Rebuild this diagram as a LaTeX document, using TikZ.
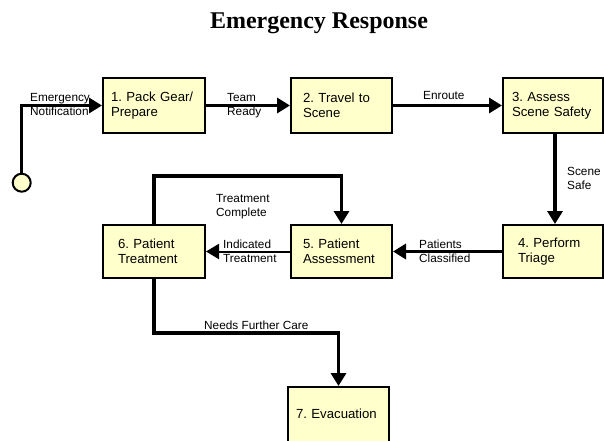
\documentclass[tikz,border=0pt]{standalone}
\usepackage{fontspec}
\setmainfont{Liberation Sans}
\newfontfamily\titlefont{Liberation Serif}
\usetikzlibrary{arrows.meta}
\frenchspacing
\definecolor{boxfill}{HTML}{FFFFCC}
\tikzset{
  box/.style={draw=black, line width=2pt, fill=boxfill, minimum height=54pt,
    inner xsep=0pt, inner ysep=0pt, align=left,
    font=\fontsize{13.2}{15}\selectfont},
  lbl/.style={anchor=base west, inner sep=0pt, align=left,
    font=\fontsize{11.8}{13.5}\selectfont},
  flow/.style={line width=3.5pt, -{Triangle[length=13pt,width=15pt]}},
  thinflow/.style={line width=2pt, -{Triangle[length=13pt,width=15pt]}},
}
\begin{document}
\begin{tikzpicture}[x=1pt,y=-1pt]
\useasboundingbox (0,0) rectangle (604,440);
\node[anchor=base, inner sep=0pt, font=\titlefont\bfseries\fontsize{24}{28}\selectfont] (title) at (319,28) {Emergency Response};
% boxes
\node[box, minimum width=102pt, text width=86pt, minimum height=55pt] (b1) at (154,105.5) {1. Pack Gear/\\Prepare};
\node[box, minimum width=101pt, text width=77pt, minimum height=55pt] (b2) at (341.5,105.5) {2. Travel to\\Scene};
\node[box, minimum width=100pt, text width=82pt, minimum height=55pt] (b3) at (553,105.5) {3. Assess\\Scene Safety};
\node[box, minimum width=100pt, text width=70pt, minimum height=53pt] (b4) at (553,251.5) {4. Perform\\Triage};
\node[box, minimum width=101pt, text width=77pt, minimum height=53pt] (b5) at (341.5,251.5) {5. Patient\\Assessment};
\node[box, minimum width=102pt, text width=72pt, minimum height=53pt] (b6) at (154,251.5) {6. Patient\\Treatment};
\node[box, minimum width=101pt, text width=85pt, minimum height=56pt] (b7) at (338.5,415) {\raisebox{3pt}{7. Evacuation}};
% start circle
\node[circle, draw=black, line width=2pt, fill=boxfill, minimum size=18pt, inner sep=0pt] (start) at (21.7,182.7) {};
% connectors
\draw[flow] (start.north) |- (b1.west);
\draw[flow] (b1.east) -- (b2.west);
\draw[flow] (b2.east) -- (b3.west);
\draw[flow] ([xshift=2pt]b3.south) -- ([xshift=2pt]b4.north);
\draw[flow] (b4.west) -- (b5.east);
\draw[thinflow] (b5.west) -- (b6.east);
\draw[flow] (b6.north) -- ++(0,-48) -| (b5.north);
\draw[flow] (b6.south) -- ++(0,54) -| (b7.north);
% labels
\node[lbl] (l0) at (30,115) {Emergency\\Notification};
\node[lbl] (l1) at (227,115) {Team\\Ready};
\node[lbl] (l2) at (423,99) {Enroute};
\node[lbl] (l3) at (567,189) {Scene\\Safe};
\node[lbl] (l4) at (419,262) {Patients\\Classified};
\node[lbl] (l5) at (223,262) {Indicated\\Treatment};
\node[lbl] (l6) at (216,216) {Treatment\\Complete};
\node[lbl] (l7) at (204,329) {Needs Further Care};
\end{tikzpicture}
\end{document}
